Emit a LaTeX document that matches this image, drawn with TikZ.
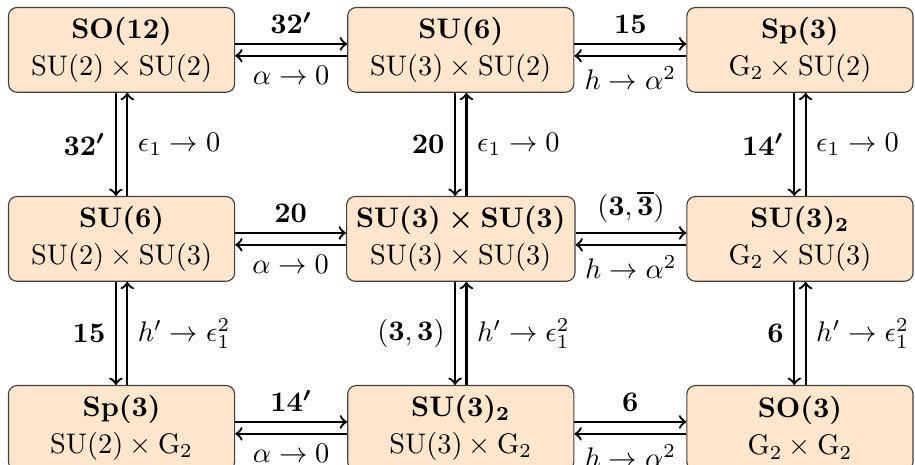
\documentclass[tikz,border=0pt]{standalone}
\usepackage{amsmath}
\usetikzlibrary{calc,positioning}
\definecolor{grpfill}{HTML}{FFE6CC}
\tikzset{
  grp/.style={draw=black!75, fill=grpfill, rounded corners=3pt,
              align=center, minimum width=79.8pt, minimum height=29.9pt,
              inner sep=3.33pt},
  link/.style={->, thick},
}
\newcommand{\hpair}[4]{%
  \draw[link] ([yshift=2.1pt]#1.east) -- ([yshift=2.1pt]#2.west)
    node[midway,above] {$#3$};
  \draw[link] ([yshift=-2.1pt]#2.west) -- ([yshift=-2.1pt]#1.east)
    node[midway,below] {$#4$};
}
\newcommand{\vpair}[4]{%
  \draw[link] ([xshift=-2pt]#1.south) -- ([xshift=-2pt]#2.north)
    node[midway,left] {$#3$};
  \draw[link] ([xshift=2pt]#2.north) -- ([xshift=2pt]#1.south)
    node[midway,right] {$#4$};
}

\begin{document}
\begin{tikzpicture}

  % top row
  \node[grp] (so12) {\textbf{SO(12)}\\[1.1pt] $\mathrm{SU}(2)\times\mathrm{SU}(2)$};
  \node[grp, right=39.5pt of so12] (su6a) {\textbf{SU(6)}\\[1.1pt] $\mathrm{SU}(3)\times\mathrm{SU}(2)$};
  \node[grp, right=39.5pt of su6a] (sp3a) {\textbf{Sp(3)}\\[1.1pt] $\mathrm{G}_2\times\mathrm{SU}(2)$};

  % middle row
  \node[grp, below=36.4pt of so12] (su6b) {\textbf{SU(6)}\\[1.1pt] $\mathrm{SU}(2)\times\mathrm{SU}(3)$};
  \node[grp, below=36.4pt of su6a] (su33) {$\boldsymbol{\mathrm{SU}(3)\times\mathrm{SU}(3)}$\\[1.1pt] $\mathrm{SU}(3)\times\mathrm{SU}(3)$};
  \node[grp, below=36.4pt of sp3a] (su32a) {$\boldsymbol{\mathrm{SU}(3)_2}$\\[1.1pt] $\mathrm{G}_2\times\mathrm{SU}(3)$};

  % bottom row
  \node[grp, below=36.4pt of su6b] (sp3b) {\textbf{Sp(3)}\\[1.1pt] $\mathrm{SU}(2)\times\mathrm{G}_2$};
  \node[grp, below=36.4pt of su33] (su32b) {$\boldsymbol{\mathrm{SU}(3)_2}$\\[1.1pt] $\mathrm{SU}(3)\times\mathrm{G}_2$};
  \node[grp, below=36.4pt of su32a] (so3) {\textbf{SO(3)}\\[1.1pt] $\mathrm{G}_2\times\mathrm{G}_2$};

  % horizontal pairs
  \hpair{so12}{su6a}{\boldsymbol{32'}}{\alpha\to 0}
  \hpair{su6a}{sp3a}{\mathbf{15}}{h\to\alpha^2}
  \hpair{su6b}{su33}{\mathbf{20}}{\alpha\to 0}
  \hpair{su33}{su32a}{(\mathbf{3},\overline{\mathbf{3}})}{h\to\alpha^2}
  \hpair{sp3b}{su32b}{\boldsymbol{14'}}{\alpha\to 0}
  \hpair{su32b}{so3}{\mathbf{6}}{h\to\alpha^2}

  % vertical pairs
  \vpair{so12}{su6b}{\boldsymbol{32'}}{\epsilon_1\to 0}
  \vpair{su6a}{su33}{\mathbf{20}}{\epsilon_1\to 0}
  \vpair{sp3a}{su32a}{\boldsymbol{14'}}{\epsilon_1\to 0}
  \vpair{su6b}{sp3b}{\mathbf{15}}{h'\to\epsilon_1^2}
  \vpair{su33}{su32b}{(\mathbf{3},\mathbf{3})}{h'\to\epsilon_1^2}
  \vpair{su32a}{so3}{\mathbf{6}}{h'\to\epsilon_1^2}

  \pgfresetboundingbox
  \useasboundingbox ($(so12.north west)+(-2.8pt,2.45pt)$) coordinate (bbtl)
    rectangle ($(sp3a.east |- bbtl)+(0.5pt,-163.8pt)$);

\end{tikzpicture}
\end{document}
